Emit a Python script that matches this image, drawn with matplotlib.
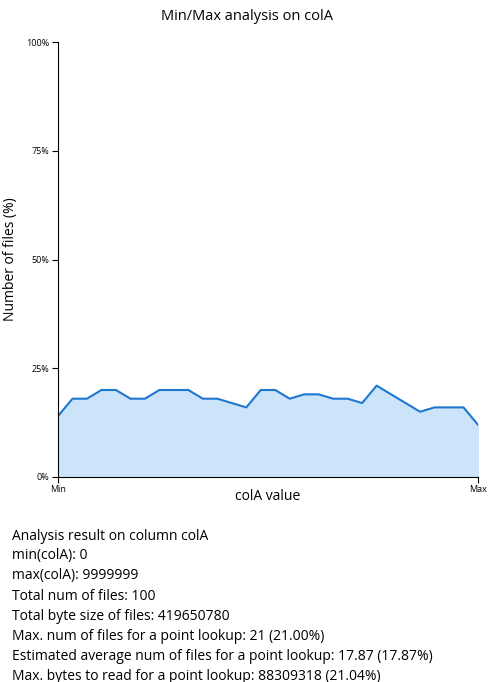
import matplotlib
matplotlib.use('Agg')
import matplotlib.pyplot as plt
import numpy as np

plt.rcParams['font.family'] = ['Open Sans', 'DejaVu Sans']

# 每个区间内文件所占百分比
pct_files = [14, 18, 18, 20, 20, 18, 18, 20, 20, 20, 18, 18, 17, 16, 20,
             20, 18, 19, 19, 18, 18, 17, 21, 19, 17, 15, 16, 16, 16, 12]
y_ticks = [0, 25, 50, 75, 100]
y_tick_labels = ['0%', '25%', '50%', '75%', '100%']
summary_lines = [
    'Analysis result on column colA',
    'min(colA): 0',
    'max(colA): 9999999',
    'Total num of files: 100',
    'Total byte size of files: 419650780',
    'Max. num of files for a point lookup: 21 (21.00%)',
    'Estimated average num of files for a point lookup: 17.87 (17.87%)',
    'Max. bytes to read for a point lookup: 88309318 (21.04%)',
]

W, H = 494, 682
fig = plt.figure(figsize=(W / 100, H / 100), dpi=100)
ax = fig.add_axes([58 / W, 1 - 477 / H, 420 / W, 435 / H])

x = np.arange(len(pct_files))
ax.fill_between(x, pct_files, color='#cce4fa')
ax.plot(x, pct_files, color='#1f77d0', linewidth=1.5)

ax.set_xlim(0, len(pct_files) - 1)
ax.set_ylim(0, 100)
ax.set_yticks(y_ticks)
ax.set_yticklabels(y_tick_labels, fontsize=6.5)
ax.set_xticks([0, len(pct_files) - 1])
ax.set_xticklabels(['Min', 'Max'], fontsize=6.5)
ax.tick_params(length=4, pad=2)
for s in ['top', 'right']:
    ax.spines[s].set_visible(False)
ax.set_xlabel('colA value', fontsize=10, labelpad=-4)
ax.set_ylabel('Number of files (%)', fontsize=10, labelpad=6)

fig.text(0.5, 1 - 17 / H, 'Min/Max analysis on colA', ha='center', va='center', fontsize=10.5)

for i, line in enumerate(summary_lines):
    fig.text(12 / W, 1 - (536 + i * 20) / H, line, ha='left', va='center', fontsize=10)

fig.savefig('out.png', dpi=100)
